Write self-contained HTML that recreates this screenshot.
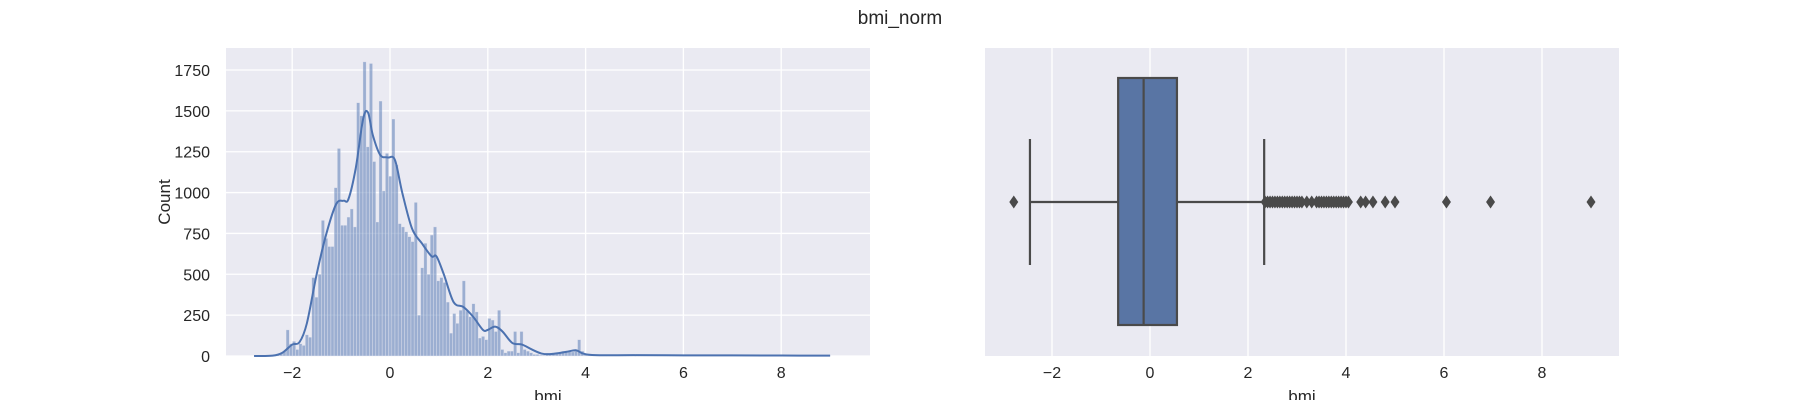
<!DOCTYPE html>
<html><head><meta charset="utf-8"><style>
body{margin:0;background:#fff;}
svg{display:block;font-family:"Liberation Sans",sans-serif;}
</style></head><body>
<svg id="fig" width="1800" height="400" viewBox="0 0 1800 400">
<text x="900" y="24" text-anchor="middle" font-size="19" fill="#262626">bmi_norm</text>
<g id="left"></g>
<g id="right"></g>
</svg>
<script>
const histBinStart = -2.78;
const histBinWidth = 0.0655;
const histCounts = [2,2,1,1,2,3,5,8,15,30,
160,75,90,40,75,65,130,115,480,360,500,830,720,670,670,1030,1270,800,800,850,900,790,1550,1470,1800,1280,1790,1190,820,1560,1010,1240,1100,1450,1170,810,790,760,730,700,940,250,540,690,500,740,790,460,480,450,330,140,260,200,280,460,275,240,320,270,110,120,100,230,220,150,280,40,20,30,30,150,20,150,40,30,20,10,10,5,5,10,15,20,15,20,30,25,30,25,30,100,30,10,
4,3,3,2,2,3,2,2,1,2,2,1,1,2,1,1,2,1,1,1,1,2,1,1,1,1,1,2,1,1,1,1,1,1,1,2,1,1,1,1,1,1,1,1,1,1,1,1,1,1,1,1,1,1,1,1,1,1,1,1,1,1,1,1,1,1,1,1,1,1,1,1,1,1,1,1];
const kdeX = [-2.78,-2.4,-2.2,-2.0,-1.85,-1.7,-1.5,-1.3,-1.1,-0.95,-0.85,-0.7,-0.55,-0.45,-0.35,-0.2,-0.05,0.1,0.25,0.45,0.65,0.85,0.95,1.1,1.3,1.5,1.7,1.9,2.0,2.15,2.3,2.5,2.7,2.9,3.1,3.3,3.6,3.8,3.95,4.2,5,6,7,8,9];
const kdeY = [0,2,20,70,85,200,500,750,930,950,960,1150,1450,1490,1350,1230,1215,1200,1000,780,690,610,610,500,330,300,240,160,160,180,150,80,70,40,15,12,25,35,15,5,5,4,4,3,2];
const xTicks = [-2,0,2,4,6,8];
const yTicks = [0,250,500,750,1000,1250,1500,1750];
const boxStats = {whiskLo:-2.45, q1:-0.65, median:-0.13, q3:0.55, whiskHi:2.33};
const outliers = [-2.78,2.35,2.4,2.45,2.5,2.55,2.6,2.65,2.7,2.75,2.8,2.85,2.9,2.95,3.0,3.05,3.1,3.2,3.3,3.4,3.45,3.5,3.55,3.6,3.65,3.7,3.75,3.8,3.85,3.9,3.95,4.0,4.05,4.3,4.4,4.55,4.8,5.0,6.05,6.95,9.0];

const NS="http://www.w3.org/2000/svg";
function mk(parent,tag,attrs){const e=document.createElementNS(NS,tag);for(const k in attrs)e.setAttribute(k,attrs[k]);parent.appendChild(e);return e;}

const L=document.getElementById('left');
const lx=v=>390+v*48.9, ly=v=>356-v*(286/1750);
const bgL=mk(L,'rect',{x:226,y:48,width:644,height:308,fill:'#eaeaf2'});


xTicks.forEach(t=>{
  const g=mk(L,'line',{x1:lx(t),x2:lx(t),y1:48,y2:356,stroke:'#fff','stroke-width':1.3});
  
  
  const tx=mk(L,'text',{x:lx(t),y:378,'text-anchor':'middle','font-size':16,fill:'#262626'});
  tx.textContent=(t<0?'\u2212'+(-t):t);
  
  
});
yTicks.forEach(t=>{
  const g=mk(L,'line',{x1:226,x2:870,y1:ly(t),y2:ly(t),stroke:'#fff','stroke-width':1.3});
  
  
  const tx=mk(L,'text',{x:210,y:ly(t)+6,'text-anchor':'end','font-size':16,fill:'#262626'});
  tx.textContent=t;
  
  
});
histCounts.forEach((c,i)=>{
  const x0=histBinStart+i*histBinWidth;
  const b=mk(L,'rect',{x:lx(x0),y:ly(c),width:lx(x0+histBinWidth)-lx(x0),height:ly(0)-ly(c),fill:'rgba(76,114,176,0.5)',stroke:'rgba(234,234,242,0.6)','stroke-width':0.6});
  
  
});
const pts=kdeX.map((x,i)=>[lx(x),ly(kdeY[i])]);
let d='M'+pts[0][0]+','+pts[0][1];
for(let i=0;i<pts.length-1;i++){
  const p0=pts[Math.max(0,i-1)],p1=pts[i],p2=pts[i+1],p3=pts[Math.min(pts.length-1,i+2)];
  d+=' C'+(p1[0]+(p2[0]-p0[0])/6)+','+(p1[1]+(p2[1]-p0[1])/6)+' '+(p2[0]-(p3[0]-p1[0])/6)+','+(p2[1]-(p3[1]-p1[1])/6)+' '+p2[0]+','+p2[1];
}
const kde=mk(L,'path',{d:d,fill:'none',stroke:'#4c72b0','stroke-width':2});


const xl=mk(L,'text',{x:548,y:402,'text-anchor':'middle','font-size':17,fill:'#262626'});
xl.textContent='bmi';


const yl=mk(L,'text',{x:170,y:202,'text-anchor':'middle','font-size':17,fill:'#262626',transform:'rotate(-90 170 202)'});
yl.textContent='Count';



const R=document.getElementById('right');
const rx=v=>1150+v*49;
const cy=202;
const bgR=mk(R,'rect',{x:985,y:48,width:634,height:308,fill:'#eaeaf2'});


xTicks.forEach(t=>{
  const g=mk(R,'line',{x1:rx(t),x2:rx(t),y1:48,y2:356,stroke:'#fff','stroke-width':1.3});
  
  
  const tx=mk(R,'text',{x:rx(t),y:378,'text-anchor':'middle','font-size':16,fill:'#262626'});
  tx.textContent=(t<0?'\u2212'+(-t):t);
  
  
});
const col='#4a4a4a';
const w1=mk(R,'line',{x1:rx(boxStats.whiskLo),x2:rx(boxStats.q1),y1:cy,y2:cy,stroke:col,'stroke-width':2.2});


const w2=mk(R,'line',{x1:rx(boxStats.q3),x2:rx(boxStats.whiskHi),y1:cy,y2:cy,stroke:col,'stroke-width':2.2});


[boxStats.whiskLo,boxStats.whiskHi].forEach(v=>{
  const c=mk(R,'line',{x1:rx(v),x2:rx(v),y1:139,y2:265,stroke:col,'stroke-width':2.2});
  
  
});
const box=mk(R,'rect',{x:rx(boxStats.q1),y:78,width:rx(boxStats.q3)-rx(boxStats.q1),height:247,fill:'#5975a4',stroke:col,'stroke-width':2.2});


const med=mk(R,'line',{x1:rx(boxStats.median),x2:rx(boxStats.median),y1:78,y2:325,stroke:col,'stroke-width':2.2});


outliers.forEach(v=>{
  const x=rx(v);
  const o=mk(R,'polygon',{points:`${x},${cy-6.5} ${x+4.5},${cy} ${x},${cy+6.5} ${x-4.5},${cy}`,fill:col});
  
  
});
const xr=mk(R,'text',{x:1302,y:402,'text-anchor':'middle','font-size':17,fill:'#262626'});
xr.textContent='bmi';


</script>
</body></html>
